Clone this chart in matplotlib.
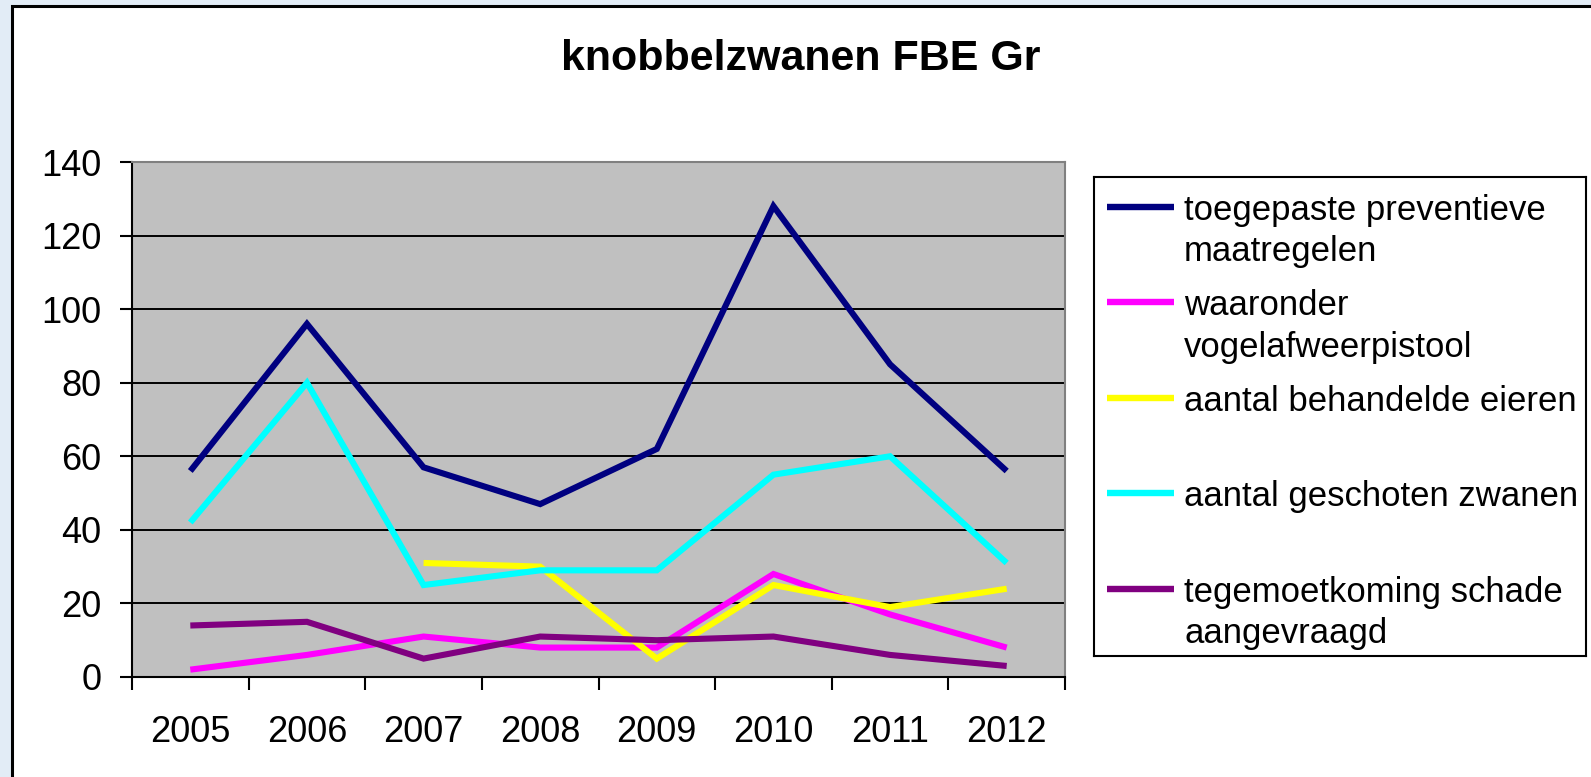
import matplotlib
matplotlib.use("Agg")
import matplotlib.pyplot as plt
from matplotlib.patches import Rectangle
import numpy as np

plt.rcParams['font.family'] = ['Liberation Sans', 'DejaVu Sans']

years = ['2005', '2006', '2007', '2008', '2009', '2010', '2011', '2012']
preventief = [56, 96, 57, 47, 62, 128, 85, 56]
pistool = [2, 6, 11, 8, 8, 28, 17, 8]
eieren = [None, None, 31, 30, 5, 25, 19, 24]
geschoten = [42, 80, 25, 29, 29, 55, 60, 31]
schade = [14, 15, 5, 11, 10, 11, 6, 3]

labels = ['toegepaste preventieve\nmaatregelen', 'waaronder\nvogelafweerpistool',
          'aantal behandelde eieren', 'aantal geschoten zwanen',
          'tegemoetkoming schade\naangevraagd']
colors = ['#000080', '#FF00FF', '#FFFF00', '#00FFFF', '#800080']
series = [preventief, pistool, eieren, geschoten, schade]

W, H = 1591, 777
fig = plt.figure(figsize=(W / 100, H / 100), dpi=100, facecolor='#E2ECF6')
# white chart area with black frame (cut off at right and bottom)
fig.patches.append(Rectangle((11.5 / W, -0.05), 1.5, 1.05 - 5.5 / H,
                             transform=fig.transFigure, facecolor='white',
                             edgecolor='black', linewidth=2.2, zorder=-5))

ax = fig.add_axes([132 / W, 1 - 677 / H, 933 / W, 515 / H])
ax.set_facecolor('#C0C0C0')
x = np.arange(len(years)) + 0.5
for vals, c in zip(series, colors):
    y = np.array([np.nan if v is None else v for v in vals], dtype=float)
    ax.plot(x, y, color=c, lw=4.4, solid_capstyle='butt', solid_joinstyle='miter', zorder=3)

ax.set_xlim(0, len(years))
ax.set_ylim(0, 140)
ax.set_yticks(range(0, 141, 20))
ax.yaxis.grid(True, color='black', lw=1.4)
ax.set_axisbelow(True)
ax.tick_params(axis='y', labelsize=26, length=9, width=1.5, pad=13)
ax.set_xticks(range(len(years) + 1))
ax.set_xticklabels([])
ax.set_xticks(x, minor=True)
ax.set_xticklabels(years, minor=True)
ax.tick_params(axis='x', which='major', length=9, width=1.5)
ax.tick_params(axis='x', which='minor', length=0, labelsize=26, pad=27)
for s in ['left', 'bottom']:
    ax.spines[s].set_linewidth(1.5)
for s in ['top', 'right']:
    ax.spines[s].set_color('#808080')
    ax.spines[s].set_linewidth(1.5)

fig.text(801 / W, 1 - 59 / H, 'knobbelzwanen FBE Gr', ha='center', va='center',
         fontsize=31, fontweight='bold')

# legend drawn in pixel coords
lax = fig.add_axes([1094 / W, 1 - 656 / H, 492 / W, 479 / H])
lax.set_xlim(1094, 1586)
lax.set_ylim(656, 177)
lax.set_xticks([])
lax.set_yticks([])
for s in lax.spines.values():
    s.set_linewidth(1.5)
entry_y = [207, 302, 398, 493, 589]
for lab, c, ey in zip(labels, colors, entry_y):
    lax.plot([1107, 1174], [ey, ey], color=c, lw=4.6, solid_capstyle='butt')
    for i, part in enumerate(lab.split('\n')):
        lax.text(1184, ey + 13 + i * 41.5, part, va='baseline', ha='left', fontsize=25)

fig.savefig('out.png', dpi=100, facecolor=fig.get_facecolor())
